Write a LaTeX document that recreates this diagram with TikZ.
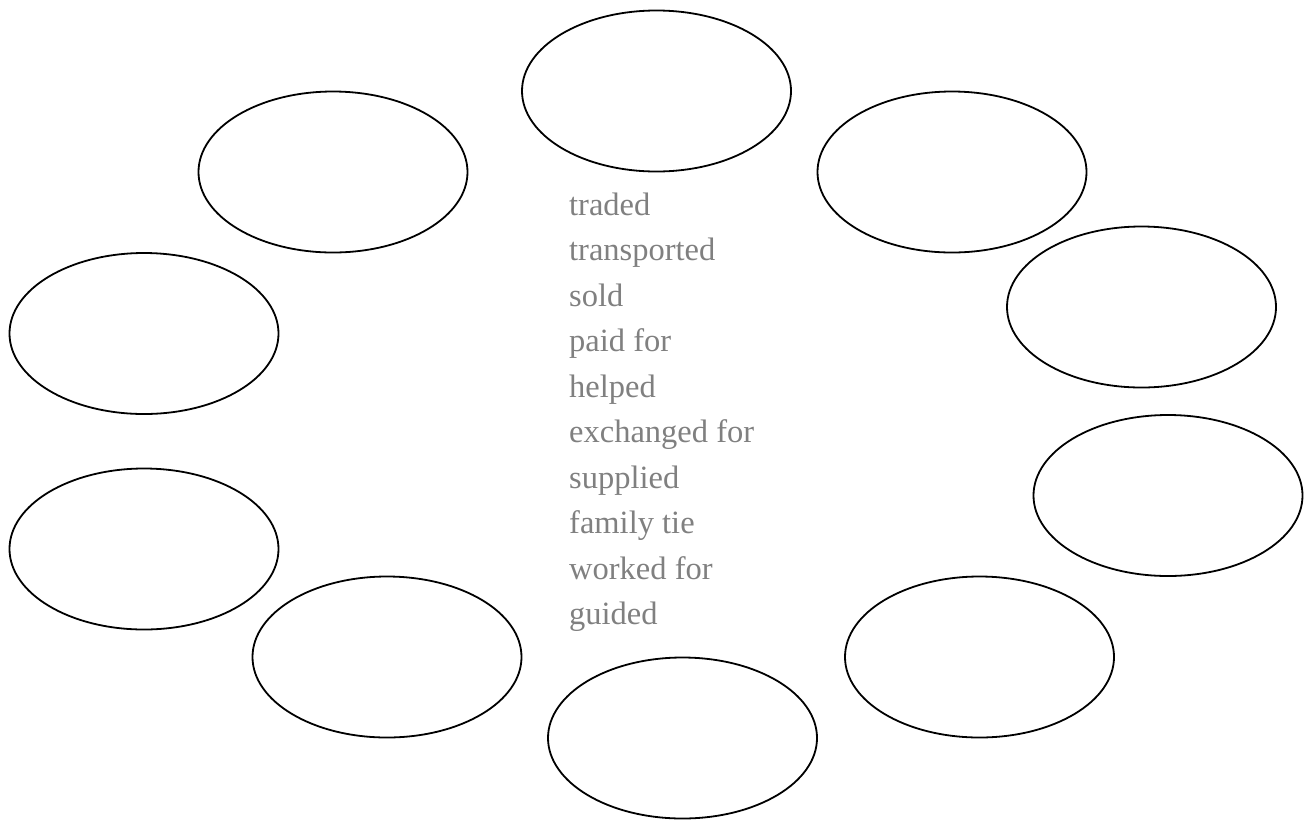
\documentclass[tikz,border=0pt]{standalone}
\usepackage{fontspec}
\setmainfont{Liberation Serif}
\usetikzlibrary{shapes.geometric}
\definecolor{wordgray}{HTML}{808080}
\begin{document}
\begin{tikzpicture}[x=1pt,y=-1pt,
  oval/.style={draw=black,line width=1.8pt,ellipse,inner sep=0pt,outer sep=0pt,minimum width=269pt,minimum height=161pt},
  word/.style={anchor=base west,inner sep=0pt,text=wordgray,font=\fontsize{32.5}{36}\selectfont}]
\useasboundingbox (0,0) rectangle (1304,820);
\node[oval] (top) at (656.5,91) {};
\node[oval] (ul) at (333,172) {};
\node[oval] (ur) at (952,172) {};
\node[oval] (l) at (144,333.5) {};
\node[oval] (r) at (1141.5,307) {};
\node[oval] (ll) at (144,549) {};
\node[oval] (rl) at (1168,495.5) {};
\node[oval] (bl) at (387,657) {};
\node[oval] (br) at (979.5,657) {};
\node[oval] (bot) at (682.5,738) {};
\node[word] (w1) at (569,215) {traded};
\node[word] (w2) at (569,260.5) {transported};
\node[word] (w3) at (569,306) {sold};
\node[word] (w4) at (569,351.5) {paid for};
\node[word] (w5) at (569,397) {helped};
\node[word] (w6) at (569,442.5) {exchanged for};
\node[word] (w7) at (569,488) {supplied};
\node[word] (w8) at (569,533.5) {family tie};
\node[word] (w9) at (569,579) {worked for};
\node[word] (w10) at (569,624.5) {guided};
\end{tikzpicture}
\end{document}
